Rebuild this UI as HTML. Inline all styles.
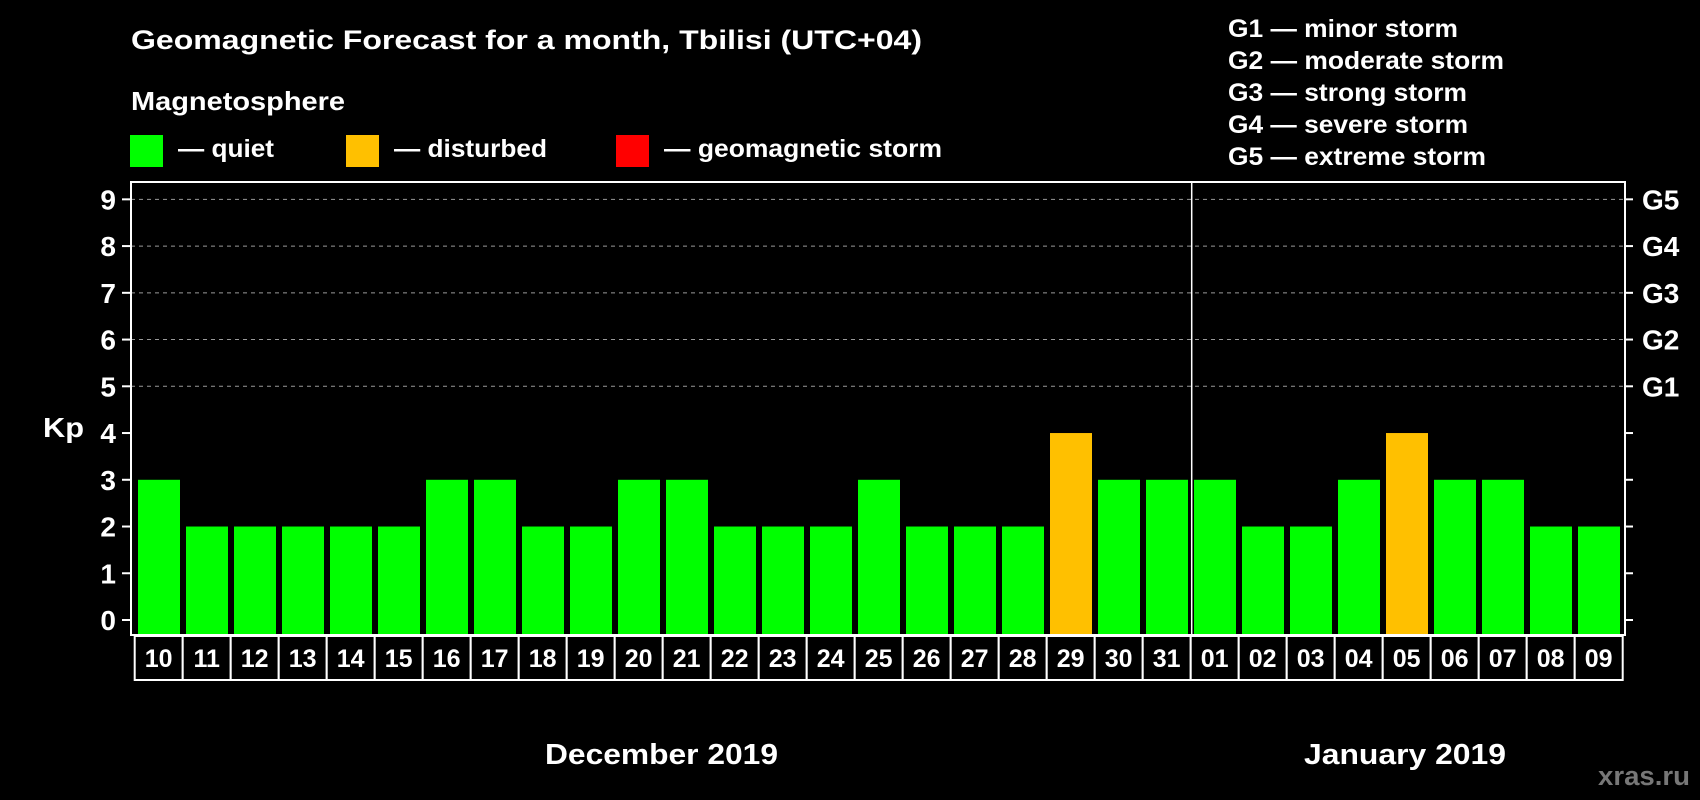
<!DOCTYPE html>
<html><head><meta charset="utf-8"><style>
html,body{margin:0;padding:0;background:#000;}
svg{display:block;font-family:"Liberation Sans",Arial,sans-serif;font-weight:bold;}
</style></head><body>
<svg id="chart" width="1700" height="800" viewBox="0 0 1700 800">
<rect x="0" y="0" width="1700" height="800" fill="#000"/>
<text x="131" y="49" fill="#fff" font-size="27" textLength="791" lengthAdjust="spacingAndGlyphs">Geomagnetic Forecast for a month, Tbilisi (UTC+04)</text>
<text x="131" y="110" fill="#fff" font-size="26" textLength="214" lengthAdjust="spacingAndGlyphs">Magnetosphere</text>
<g>
<rect x="130" y="135" width="33" height="32" fill="#00ff00"/>
<text x="178" y="157" fill="#fff" font-size="25" textLength="96" lengthAdjust="spacingAndGlyphs">— quiet</text></g>
<g>
<rect x="346" y="135" width="33" height="32" fill="#ffc000"/>
<text x="394" y="157" fill="#fff" font-size="25" textLength="153" lengthAdjust="spacingAndGlyphs">— disturbed</text></g>
<g>
<rect x="616" y="135" width="33" height="32" fill="#ff0000"/>
<text x="664" y="157" fill="#fff" font-size="25" textLength="278" lengthAdjust="spacingAndGlyphs">— geomagnetic storm</text></g>
<g font-size="25" fill="#fff">
<text x="1228" y="37" textLength="230" lengthAdjust="spacingAndGlyphs">G1 — minor storm</text>
<text x="1228" y="69" textLength="276" lengthAdjust="spacingAndGlyphs">G2 — moderate storm</text>
<text x="1228" y="101" textLength="239" lengthAdjust="spacingAndGlyphs">G3 — strong storm</text>
<text x="1228" y="133" textLength="240" lengthAdjust="spacingAndGlyphs">G4 — severe storm</text>
<text x="1228" y="165" textLength="258" lengthAdjust="spacingAndGlyphs">G5 — extreme storm</text>
</g>
<text x="43" y="437" fill="#fff" font-size="28" textLength="41" lengthAdjust="spacingAndGlyphs">Kp</text>
<text x="545" y="764" fill="#fff" font-size="29" textLength="233" lengthAdjust="spacingAndGlyphs">December 2019</text>
<text x="1304" y="764" fill="#fff" font-size="29" textLength="202" lengthAdjust="spacingAndGlyphs">January 2019</text>
<text x="1598" y="785" fill="#777" font-size="27" textLength="92" lengthAdjust="spacingAndGlyphs">xras.ru</text>
<g id="plot"></g>
</svg>
<script>
const days = ["10","11","12","13","14","15","16","17","18","19","20","21","22","23","24","25","26","27","28","29","30","31","01","02","03","04","05","06","07","08","09"];
const kpValues = [3,2,2,2,2,2,3,3,2,2,3,3,2,2,2,3,2,2,2,4,3,3,3,2,2,3,4,3,3,2,2];
const yTicks = [0,1,2,3,4,5,6,7,8,9];
const gLabels = ["G1","G2","G3","G4","G5"];
const gLevels = [5,6,7,8,9];
const monthBreakIndex = 22;

const NS = "http://www.w3.org/2000/svg";
const plot = document.getElementById("plot");
const L = 131, R = 1625, T = 182, B = 635;
const x0 = 134.7, pitch = 48, barW = 42, barOff = 3.3;
function yScale(v){ return 620 - v * 46.74; }
function xScale(i){ return x0 + i * pitch; }
function mk(tag, attrs){ const e = document.createElementNS(NS, tag); for (const k in attrs) e.setAttribute(k, attrs[k]); plot.appendChild(e); return e; }

gLevels.forEach(v => {
  const g = mk("line", {x1:L, x2:R, y1:yScale(v), y2:yScale(v), stroke:"#999", "stroke-width":1, "stroke-dasharray":"4,4"});
  
  
});
kpValues.forEach((v, i) => {
  const b = mk("rect", {x:xScale(i)+barOff, y:yScale(v), width:barW, height:B - yScale(v), fill: v >= 5 ? "#ff0000" : (v >= 4 ? "#ffc000" : "#00ff00")});
  
  
});
const sep = mk("line", {x1:xScale(monthBreakIndex)+1, x2:xScale(monthBreakIndex)+1, y1:T, y2:B, stroke:"#fff", "stroke-width":1.5});


const fr = mk("rect", {x:L, y:T, width:R-L, height:B-T, fill:"none", stroke:"#fff", "stroke-width":2});


yTicks.forEach(v => {
  const tl = mk("line", {x1:122, x2:L, y1:yScale(v), y2:yScale(v), stroke:"#fff", "stroke-width":2});
  
  
  const tr = mk("line", {x1:R, x2:1633, y1:yScale(v), y2:yScale(v), stroke:"#fff", "stroke-width":2});
  
  
  const t = mk("text", {x:116, y:yScale(v)+10, fill:"#fff", "font-size":28, "text-anchor":"end"});
  t.textContent = v;
  
  
});
gLevels.forEach((v, i) => {
  const t = mk("text", {x:1642, y:yScale(v)+10, fill:"#fff", "font-size":28});
  t.textContent = gLabels[i];
  
  
});
days.forEach((d, i) => {
  const r = mk("rect", {x:xScale(i), y:636, width:pitch, height:44, fill:"#000", stroke:"#fff", "stroke-width":2});
  
  
  const t = mk("text", {x:xScale(i)+pitch/2, y:667, fill:"#fff", "font-size":25, "text-anchor":"middle"});
  t.textContent = d;
  
  
});
</script>
</body></html>
